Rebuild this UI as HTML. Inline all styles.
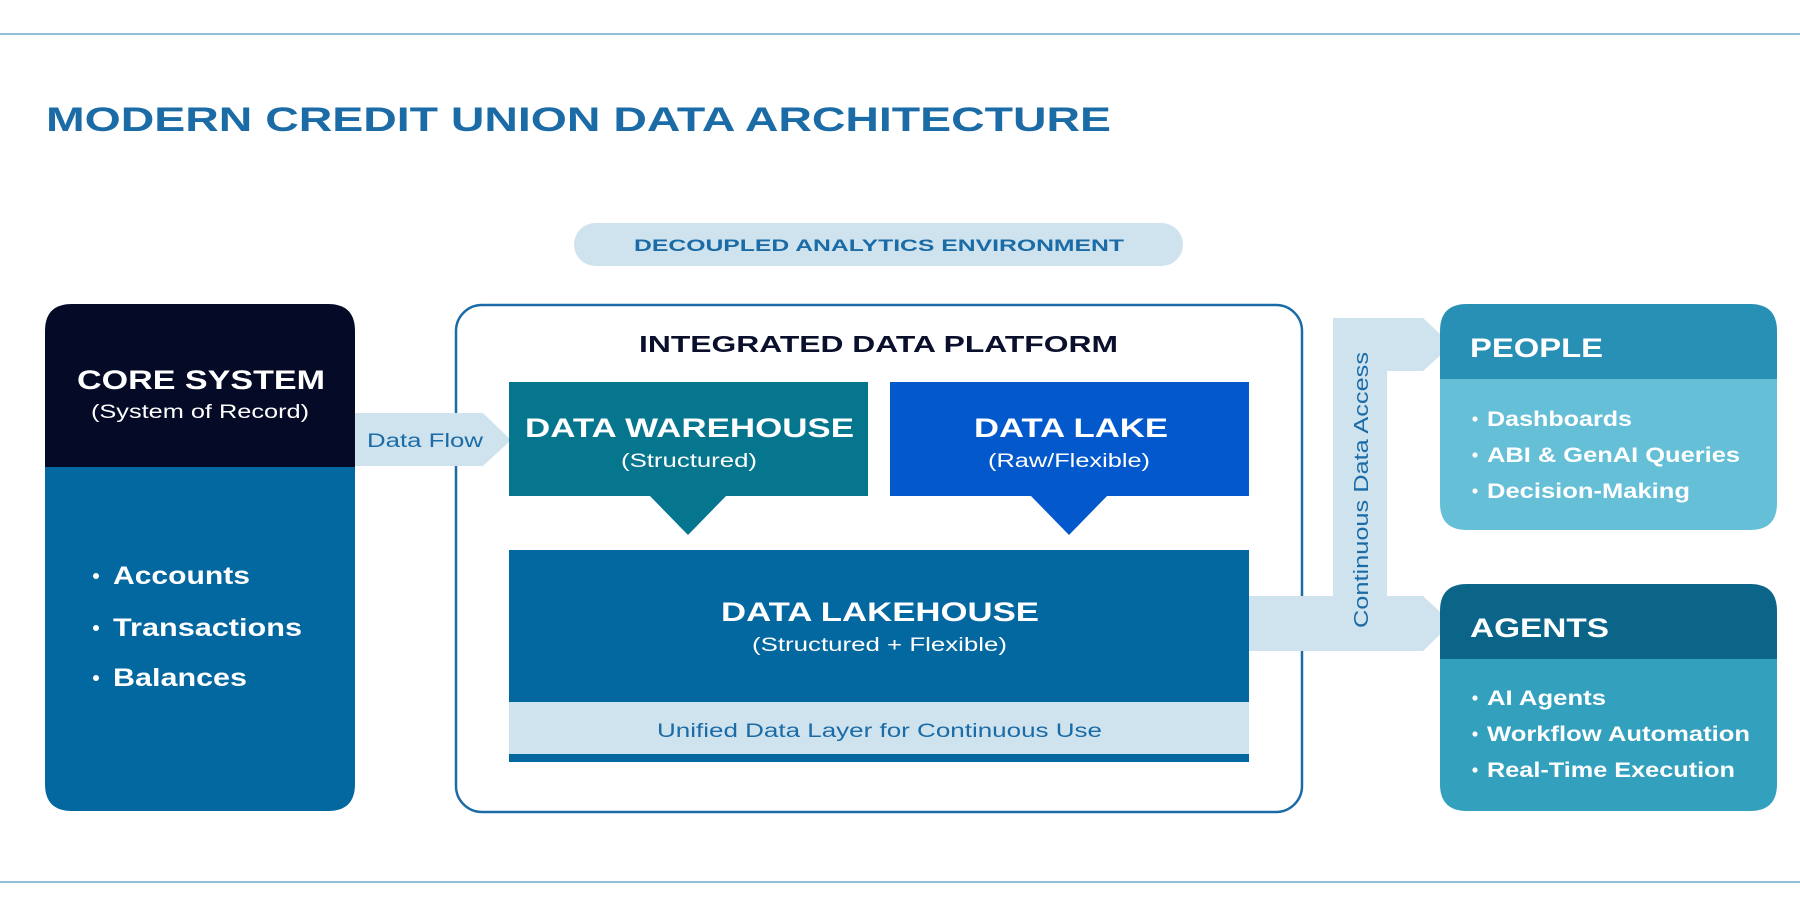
<!DOCTYPE html>
<html><head><meta charset="utf-8"><style>
html,body{margin:0;padding:0;background:#fff;}
svg{display:block;}
text{font-family:"Liberation Sans",sans-serif;}
</style></head><body>
<svg width="1800" height="918" viewBox="0 0 1800 918" xmlns="http://www.w3.org/2000/svg">
<rect width="1800" height="918" fill="#fff"/>
<line x1="0" y1="34" x2="1800" y2="34" stroke="#93bfdc" stroke-width="2"/>
<line x1="0" y1="882" x2="1800" y2="882" stroke="#93bfdc" stroke-width="2"/>

<text x="46" y="131" font-size="34" font-weight="bold" fill="#1a6ba6" textLength="1065" lengthAdjust="spacingAndGlyphs">MODERN CREDIT UNION DATA ARCHITECTURE</text>

<rect x="574" y="223" width="609" height="43" rx="21.5" fill="#cfe3ef"/>
<text x="634" y="251" font-size="17" font-weight="bold" fill="#1a6ba6" textLength="490" lengthAdjust="spacingAndGlyphs">DECOUPLED ANALYTICS ENVIRONMENT</text>

<!-- core system -->
<path d="M45,467 V331 Q45,304 72,304 H328 Q355,304 355,331 V467 Z" fill="#050a26"/>
<path d="M45,467 H355 V784 Q355,811 328,811 H72 Q45,811 45,784 Z" fill="#0367a0"/>
<text x="77" y="389" font-size="27" font-weight="bold" fill="#fff" textLength="248" lengthAdjust="spacingAndGlyphs">CORE SYSTEM</text>
<text x="91" y="418" font-size="19" fill="#fff" textLength="218" lengthAdjust="spacingAndGlyphs">(System of Record)</text>
<circle cx="96" cy="576" r="3" fill="#fff"/>
<text x="113" y="584" font-size="25" font-weight="bold" fill="#fff" textLength="137" lengthAdjust="spacingAndGlyphs">Accounts</text>
<circle cx="96" cy="628" r="3" fill="#fff"/>
<text x="113" y="636" font-size="25" font-weight="bold" fill="#fff" textLength="189" lengthAdjust="spacingAndGlyphs">Transactions</text>
<circle cx="96" cy="678" r="3" fill="#fff"/>
<text x="113" y="686" font-size="25" font-weight="bold" fill="#fff" textLength="134" lengthAdjust="spacingAndGlyphs">Balances</text>

<!-- integrated platform -->
<rect x="456" y="305" width="846" height="507" rx="26" fill="#fff" stroke="#1a6ba6" stroke-width="2.5"/>
<text x="639" y="352" font-size="23" font-weight="bold" fill="#0a0f2c" textLength="479" lengthAdjust="spacingAndGlyphs">INTEGRATED DATA PLATFORM</text>

<!-- data flow arrow (on top of box border) -->
<path d="M355,413 H483 L511,440 L483,466 H355 Z" fill="#cfe3ef"/>
<text x="367" y="447" font-size="19" fill="#1a6ba6" textLength="116" lengthAdjust="spacingAndGlyphs">Data Flow</text>

<rect x="509" y="382" width="359" height="114" fill="#06768e"/>
<path d="M649,495 H727 L688,535 Z" fill="#06768e"/>
<text x="525" y="437" font-size="27" font-weight="bold" fill="#fff" textLength="329" lengthAdjust="spacingAndGlyphs">DATA WAREHOUSE</text>
<text x="621" y="467" font-size="19" fill="#fff" textLength="136" lengthAdjust="spacingAndGlyphs">(Structured)</text>

<rect x="890" y="382" width="359" height="114" fill="#0358cc"/>
<path d="M1030,495 H1108 L1069,535 Z" fill="#0358cc"/>
<text x="974" y="437" font-size="27" font-weight="bold" fill="#fff" textLength="194" lengthAdjust="spacingAndGlyphs">DATA LAKE</text>
<text x="988" y="467" font-size="19" fill="#fff" textLength="162" lengthAdjust="spacingAndGlyphs">(Raw/Flexible)</text>

<rect x="509" y="550" width="740" height="152" fill="#0367a0"/>
<rect x="509" y="702" width="740" height="52" fill="#cfe3ef"/>
<rect x="509" y="754" width="740" height="8" fill="#0367a0"/>
<text x="721" y="621" font-size="27" font-weight="bold" fill="#fff" textLength="318" lengthAdjust="spacingAndGlyphs">DATA LAKEHOUSE</text>
<text x="752" y="651" font-size="19" fill="#fff" textLength="255" lengthAdjust="spacingAndGlyphs">(Structured + Flexible)</text>
<text x="657" y="737" font-size="19" fill="#1a6ba6" textLength="445" lengthAdjust="spacingAndGlyphs">Unified Data Layer for Continuous Use</text>

<!-- continuous access connector -->
<path d="M1249,596 H1333 V318 H1423 L1452,345 L1423,371 H1387 V596 H1423 L1452,623 L1423,651 H1249 Z" fill="#cfe3ef"/>
<text transform="translate(1368,628) rotate(-90)" x="0" y="0" font-size="20" fill="#1a6ba6" textLength="276" lengthAdjust="spacingAndGlyphs">Continuous Data Access</text>

<!-- people -->
<path d="M1440,379 V331 Q1440,304 1467,304 H1750 Q1777,304 1777,331 V379 Z" fill="#2890b5"/>
<path d="M1440,379 H1777 V503 Q1777,530 1750,530 H1467 Q1440,530 1440,503 Z" fill="#65bfd7"/>
<text x="1470" y="357" font-size="27" font-weight="bold" fill="#fff" textLength="133" lengthAdjust="spacingAndGlyphs">PEOPLE</text>
<circle cx="1475" cy="419" r="2.6" fill="#fff"/>
<text x="1487" y="426" font-size="21" font-weight="bold" fill="#fff" textLength="145" lengthAdjust="spacingAndGlyphs">Dashboards</text>
<circle cx="1475" cy="455" r="2.6" fill="#fff"/>
<text x="1487" y="462" font-size="21" font-weight="bold" fill="#fff" textLength="253" lengthAdjust="spacingAndGlyphs">ABI &amp; GenAI Queries</text>
<circle cx="1475" cy="491" r="2.6" fill="#fff"/>
<text x="1487" y="498" font-size="21" font-weight="bold" fill="#fff" textLength="203" lengthAdjust="spacingAndGlyphs">Decision-Making</text>

<!-- agents -->
<path d="M1440,659 V611 Q1440,584 1467,584 H1750 Q1777,584 1777,611 V659 Z" fill="#0b6589"/>
<path d="M1440,659 H1777 V784 Q1777,811 1750,811 H1467 Q1440,811 1440,784 Z" fill="#33a0be"/>
<text x="1470" y="637" font-size="27" font-weight="bold" fill="#fff" textLength="139" lengthAdjust="spacingAndGlyphs">AGENTS</text>
<circle cx="1475" cy="698" r="2.6" fill="#fff"/>
<text x="1487" y="705" font-size="21" font-weight="bold" fill="#fff" textLength="119" lengthAdjust="spacingAndGlyphs">AI Agents</text>
<circle cx="1475" cy="734" r="2.6" fill="#fff"/>
<text x="1487" y="741" font-size="21" font-weight="bold" fill="#fff" textLength="263" lengthAdjust="spacingAndGlyphs">Workflow Automation</text>
<circle cx="1475" cy="770" r="2.6" fill="#fff"/>
<text x="1487" y="777" font-size="21" font-weight="bold" fill="#fff" textLength="248" lengthAdjust="spacingAndGlyphs">Real-Time Execution</text>
</svg>
</body></html>
